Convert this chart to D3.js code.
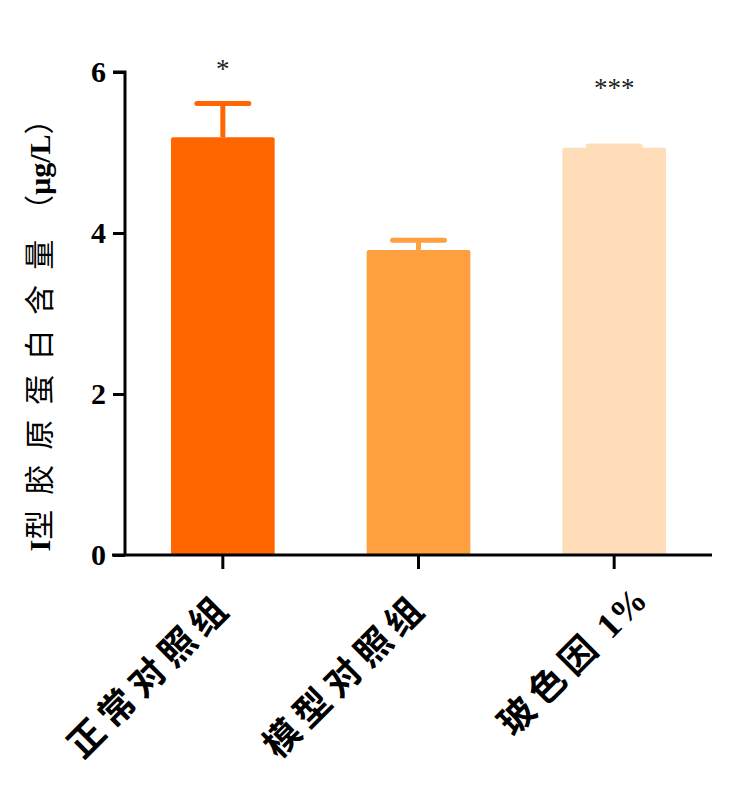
<!DOCTYPE html>
<html><head><meta charset="utf-8">
<script src="https://cdn.jsdelivr.net/npm/d3@7"></script>
<style>body{margin:0;background:#fff}</style>
</head><body>
<svg id="c" width="750" height="788"></svg>
<script>
const categories = ["正常对照组", "模型对照组", "玻色因 1%"];
const values = [5.19, 3.79, 5.06];
const errors = [0.42, 0.12, 0.02];
const stars = ["*", "", "***"];
const colors = ["#FF6600", "#FFA040", "#FFDDB8"];
const yTicks = [0, 2, 4, 6];

const svg = d3.select("#c");
const x0 = 125, x1 = 712, yTop = 72, yBot = 555;
const x = d3.scaleBand().domain(categories).range([x0, x1]).paddingInner(0.47).paddingOuter(0.235);
const y = d3.scaleLinear().domain([0, 6]).range([yBot, yTop]);
const serif = "'Liberation Serif','Times New Roman','Noto Sans CJK SC',serif";
const isCJK = s => /[\u3000-\u9fff\uff00-\uffef]/.test(s);

// bars
svg.selectAll("rect.bar").data(values).join("rect")
  .attr("x", (d, i) => x(categories[i])).attr("width", x.bandwidth())
  .attr("y", d => y(d)).attr("height", d => yBot - y(d))
  .attr("rx", 2).attr("fill", (d, i) => colors[i]);

// error bars
const g = svg.append("g");
values.forEach((v, i) => {
  const cx = x(categories[i]) + x.bandwidth() / 2;
  const top = y(v + errors[i]);
  g.append("line").attr("x1", cx).attr("x2", cx).attr("y1", y(v)).attr("y2", top)
    .attr("stroke", colors[i]).attr("stroke-width", 5);
  g.append("line").attr("x1", cx - 26).attr("x2", cx + 26).attr("y1", top).attr("y2", top)
    .attr("stroke", colors[i]).attr("stroke-width", 5).attr("stroke-linecap", "round");
  if (stars[i]) {
    svg.append("text").attr("x", cx).attr("y", i === 0 ? 78 : 97).attr("text-anchor", "middle")
      .attr("font-family", serif).attr("font-size", 27).attr("fill", "#222").text(stars[i]);
  }
});

// y axis
const ya = svg.append("g").attr("transform", `translate(${x0},0)`)
  .call(d3.axisLeft(y).tickValues(yTicks).tickSize(12).tickPadding(7).tickFormat(d3.format("d")));
ya.select(".domain").attr("stroke", "#000").attr("stroke-width", 3).attr("d", `M-12,${yTop}H0V${yBot}`);
ya.selectAll(".tick line").attr("stroke", "#000").attr("stroke-width", 3);
ya.selectAll(".tick text").attr("font-family", serif).attr("font-weight", "bold")
  .attr("font-size", 30).attr("fill", "#000");

// x axis
const xa = svg.append("g").attr("transform", `translate(0,${yBot})`)
  .call(d3.axisBottom(x).tickSize(14).tickFormat(""));
xa.select(".domain").attr("stroke", "#000").attr("stroke-width", 3).attr("d", `M112,0H${x1}`);
xa.selectAll(".tick line").attr("stroke", "#000").attr("stroke-width", 3);

// x labels (rotated -45, right end near tick)
const ls = 7;
categories.forEach((c, i) => {
  const cx = x(c) + x.bandwidth() / 2;
  const last = i === categories.length - 1;
  const ox = last ? 35 : 7, oy = last ? 47 : 58;
  const t = svg.append("text").attr("transform", `translate(${cx + ox},${yBot + oy}) rotate(-45)`)
    .attr("font-family", serif).attr("font-weight", "bold")
    .attr("font-size", 36).attr("fill", "#000");
  const runs = c.match(/[\u4e00-\u9fff]+|[^\u4e00-\u9fff]+/g);
  runs.forEach(r => t.append("tspan").attr("letter-spacing", isCJK(r) ? ls : 0).text(r));
  const len = t.node().getComputedTextLength();
  t.attr("x", -(len - (isCJK(runs[runs.length - 1]) ? ls : 0)));
});

// y title
const tt = svg.append("text").attr("transform", `translate(50,328) rotate(-90)`)
  .attr("font-family", serif).attr("font-size", 30).attr("fill", "#000")
  .call(t => {
    t.append("tspan").attr("font-weight", "bold").text("I");
    t.append("tspan").attr("letter-spacing", 15).text("型胶原蛋白含量");
    t.append("tspan").text("（");
    t.append("tspan").attr("font-weight", "bold").text("μg/L");
    t.append("tspan").text("）");
  });
const tlen = tt.node().getComputedTextLength();
tt.attr("x", -tlen / 2);
</script>
</body></html>
